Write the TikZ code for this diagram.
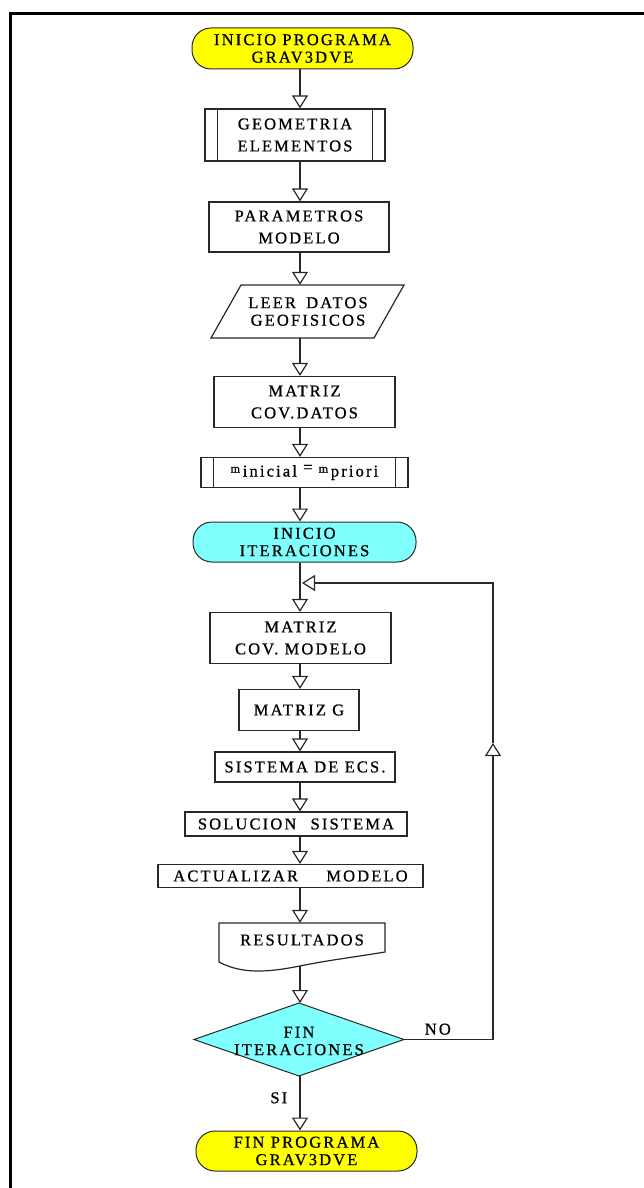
\documentclass[tikz,border=0pt]{standalone}
\usepackage{fontspec}
\setmainfont{Liberation Serif}[LetterSpace=13,FakeBold=0.8]
\usetikzlibrary{arrows.meta,calc}
\definecolor{termyellow}{RGB}{255,255,0}
\definecolor{termcyan}{RGB}{128,255,255}
\definecolor{edgegray}{RGB}{40,40,40}
\newcommand{\lbl}{\fontsize{16.5}{17.5}\selectfont}
\newcommand{\boxlbl}{\fontsize{16.5}{22}\selectfont}
\newcommand{\smallm}{{\fontsize{12}{12}\selectfont m}}
\tikzset{
  every node/.style={font=\lbl, align=center, inner sep=0pt},
  box/.style={draw=edgegray, line width=1.2pt, fill=white},
  tallbox/.style={box, font=\boxlbl},
  term/.style={draw=edgegray, line width=1pt, rounded corners=19pt},
  flow/.style={draw=edgegray, line width=1.6pt, -{Triangle[length=13pt,width=16pt,fill=white,line width=1.2pt]}},
  frame/.style={draw=black, line width=3.5pt},
}
\begin{document}
\begin{tikzpicture}[x=1pt,y=-1pt]
\useasboundingbox (0,0) rectangle (644,1188);
% frame
\draw[frame] (10.5,1188) -- (10.5,13.5) -- (644,13.5);
\coordinate (axis) at (300,0);

% nodes
\node[term, fill=termyellow, minimum width=221pt, minimum height=41pt] (start) at (302.5,48.5) {INICIO PROGRAMA\\GRAV3DVE};
\node[tallbox, minimum width=180pt, minimum height=52pt] (geo) at (295,135) {GEOMETRIA\\ELEMENTOS};
\draw[box] ([xshift=13pt]geo.north west) -- ([xshift=13pt]geo.south west);
\draw[box] ([xshift=-13pt]geo.north east) -- ([xshift=-13pt]geo.south east);
\node[tallbox, minimum width=180pt, minimum height=50pt] (par) at (299,227) {PARAMETROS\\MODELO};
\node[minimum width=190pt, minimum height=53pt] (leer) at (308,311.5) {};
\draw[box] (241,285) -- (404,285) -- (374,338) -- (211,338) -- cycle;
\node at (leer) {LEER\hspace{4pt} DATOS\\GEOFISICOS};
\node[tallbox, minimum width=181pt, minimum height=51pt] (mcd) at (304.5,402) {MATRIZ\\COV.DATOS};
\node[box, minimum width=207pt, minimum height=30pt] (minit) at (304.5,472.5) {\smallm\,\raisebox{-4pt}{inicial} = \smallm\,\raisebox{-4pt}{priori}};
\draw[box] ([xshift=13pt]minit.north west) -- ([xshift=13pt]minit.south west);
\draw[box] ([xshift=-13pt]minit.north east) -- ([xshift=-13pt]minit.south east);
\node[term, fill=termcyan, minimum width=223pt, minimum height=40pt] (ini) at (304.5,542) {INICIO\\ITERACIONES};
\node[tallbox, minimum width=181pt, minimum height=51pt] (mcm) at (300.5,638) {MATRIZ\\COV. MODELO};
\node[box, minimum width=120pt, minimum height=41pt] (mg) at (299,710) {MATRIZ G};
\node[box, minimum width=180pt, minimum height=30pt] (sis) at (305,767) {SISTEMA DE ECS.};
\node[box, minimum width=222pt, minimum height=24pt] (sol) at (296,824) {SOLUCION\hspace{8pt} SISTEMA};
\node[box, minimum width=265pt, minimum height=23pt] (act) at (290.5,876) {ACTUALIZAR\hspace{22pt} MODELO};
% document shape
\node[minimum width=166pt, minimum height=40pt] (res) at (302,943) {};
\draw[box] (219,923) -- (385,923) -- (385,952)
  .. controls (355,957) and (330,960) .. (305,965)
  .. controls (275,971) and (245,976) .. (219,962) -- cycle;
\node at (302,940) {RESULTADOS};
\coordinate (resb) at (300,965.5);
% decision
\coordinate (dtop) at (299,1003);
\coordinate (dbot) at (299,1076);
\coordinate (dleft) at (194,1039.5);
\coordinate (dright) at (404,1039.5);
\draw[draw=edgegray, line width=1pt, fill=termcyan] (dtop) -- (dright) -- (dbot) -- (dleft) -- cycle;
\node (dec) at (299,1041) {FIN\\ITERACIONES};
\node[term, fill=termyellow, minimum width=221pt, minimum height=40pt] (fin) at (306.5,1151) {FIN PROGRAMA\\GRAV3DVE};

% connectors
\draw[flow] (start.south -| axis) -- (geo.north -| axis);
\draw[flow] (geo.south -| axis) -- (par.north -| axis);
\draw[flow] (par.south -| axis) -- (leer.north -| axis);
\draw[flow] (leer.south -| axis) -- (mcd.north -| axis);
\draw[flow] (mcd.south -| axis) -- (minit.north -| axis);
\draw[flow] (minit.south -| axis) -- (ini.north -| axis);
\draw[flow] (ini.south -| axis) -- (mcm.north -| axis);
\draw[flow] (mcm.south -| axis) -- (mg.north -| axis);
\draw[flow] (mg.south -| axis) -- (sis.north -| axis);
\draw[flow] (sis.south -| axis) -- (sol.north -| axis);
\draw[flow] (sol.south -| axis) -- (act.north -| axis);
\draw[flow] (act.south -| axis) -- (res.north -| axis);
\draw[flow] (resb) -- (dtop -| axis);
\draw[flow] (dbot -| axis) -- node[left=12pt, pos=0.4] {SI} (fin.north -| axis);
% loop back
\coordinate (r1) at (493,1039.5);
\coordinate (r2) at (493,743);
\coordinate (r3) at (493,583);
\coordinate (j) at (302,583);
\draw[flow] (dright) -- node[above=4pt, pos=0.38] {NO} (r1) -- (r2);
\draw[flow] (r2) -- (r3) -- (j);
\end{tikzpicture}
\end{document}
